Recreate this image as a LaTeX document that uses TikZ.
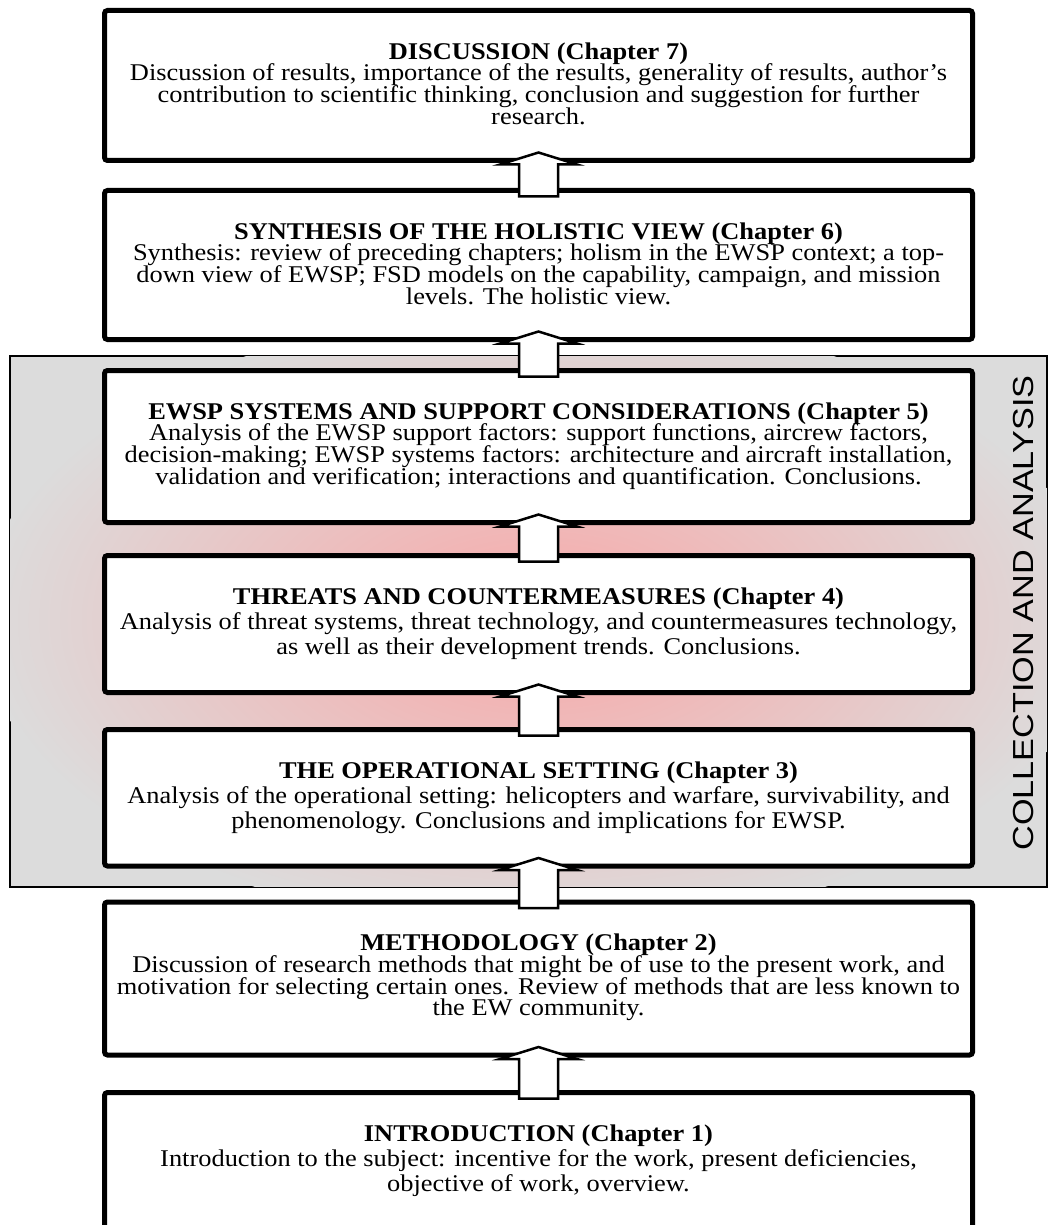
\documentclass[tikz,border=0pt]{standalone}
\usepackage{fontspec}
\setmainfont{Liberation Serif}[FakeStretch=1.10]
\newfontfamily\panelsans{Liberation Sans}
\usepackage{graphicx}
\usetikzlibrary{calc}

\definecolor{panelgray}{HTML}{DCDCDC}
\definecolor{glowpink}{HTML}{F2B4B4}
\pgfdeclareradialshading{pinkglow}{\pgfpoint{0bp}{0bp}}{%
  color(0bp)=(glowpink); color(6bp)=(glowpink);
  color(25bp)=(panelgray); color(50bp)=(panelgray)}

% text settings for the chapter boxes: fixed line pitch
\newcommand\chapfont{\fontsize{12}{10.9}\selectfont\lineskiplimit=-20pt\relax}
\newcommand\chapfontloose{\fontsize{12}{12.5}\selectfont\lineskiplimit=-20pt\relax}

% hollow block arrow rising from box #1 into box #2
\newcommand\liftarrow[2]{%
  \draw[liftarrow]
    ($(#1.north)+(-19.5,6)$) -- ($(#2.south)+(-19.5,4)$)
    -- ($(#2.south)+(-38.5,4)$) -- ($(#2.south)+(0,-8)$)
    -- ($(#2.south)+(38.5,4)$) -- ($(#2.south)+(19.5,4)$)
    -- ($(#1.north)+(19.5,6)$) -- cycle;}

\tikzset{
  chapter/.style={draw=black, line width=2.5pt, fill=white, rounded corners=1.5pt,
    minimum width=434pt, outer sep=0pt, inner sep=0pt},
  chaptext/.style={align=center, inner sep=0pt, anchor=north, font=\chapfont},
  chaptextloose/.style={chaptext, font=\chapfontloose},
  liftarrow/.style={draw=black, line width=1.25pt, fill=white, line join=miter},
  panel/.style={draw=black, line width=1pt, fill=panelgray},
  sidelabel/.style={font=\panelsans\fontsize{14.5}{14.5}\selectfont, rotate=90, inner sep=0pt}
}

\begin{document}
\begin{tikzpicture}[x=0.5pt, y=-0.5pt]
\useasboundingbox (0,0) rectangle (1057,1225);
\clip (0,0) rectangle (1057,1225);

% grey panel around the analysis chapters, with a soft red glow
\draw[panel] (9.5,356) rectangle (1047,887);
\begin{scope}
  \clip (10,356.5) rectangle (1046.5,886.5);
  \shade[shading=pinkglow] (540,620) ellipse [x radius=560, y radius=310];
\end{scope}

\node[sidelabel] (sidelabel) at (1024,613) {\scalebox{1.18}[1]{COLLECTION AND ANALYSIS}};

% chapter boxes
\node[chapter, minimum height=75pt]    (ch7) at (538.5,85.5)   {};
\node[chapter, minimum height=74.5pt]  (ch6) at (538.5,265)    {};
\node[chapter, minimum height=76pt]    (ch5) at (538.5,446.5)  {};
\node[chapter, minimum height=68.5pt]  (ch4) at (538.5,624)    {};
\node[chapter, minimum height=68.25pt] (ch3) at (538.5,797.75) {};
\node[chapter, minimum height=76.5pt]  (ch2) at (538.5,978.5)  {};
\node[chapter, minimum height=70pt]    (ch1) at (538.5,1162.5) {};

% chapter texts, each hung from the top of its box
\node[chaptext] (t7) at ($(ch7.north)+(0,31.5)$) {\textbf{DISCUSSION (Chapter 7)}\\
  Discussion of results, importance of the results, generality of results, author’s\\
  contribution to scientific thinking, conclusion and suggestion for further\\
  research.};
\node[chaptext] (t6) at ($(ch6.north)+(0,31.5)$) {\textbf{SYNTHESIS OF THE HOLISTIC VIEW (Chapter 6)}\\
  Synthesis: review of preceding chapters; holism in the EWSP context; a top-\\
  down view of EWSP; FSD models on the capability, campaign, and mission\\
  levels. The holistic view.};
\node[chaptext] (t5) at ($(ch5.north)+(0,31.5)$) {\textbf{EWSP SYSTEMS AND SUPPORT CONSIDERATIONS (Chapter 5)}\\
  Analysis of the EWSP support factors: support functions, aircrew factors,\\
  decision-making; EWSP systems factors: architecture and aircraft installation,\\
  validation and verification; interactions and quantification. Conclusions.};
\node[chaptextloose] (t4) at ($(ch4.north)+(0,31.5)$) {\textbf{THREATS AND COUNTERMEASURES (Chapter 4)}\\
  Analysis of threat systems, threat technology, and countermeasures technology,\\
  as well as their development trends. Conclusions.};
\node[chaptextloose] (t3) at ($(ch3.north)+(0,31.5)$) {\textbf{THE OPERATIONAL SETTING (Chapter 3)}\\
  Analysis of the operational setting: helicopters and warfare, survivability, and\\
  phenomenology. Conclusions and implications for EWSP.};
\node[chaptext] (t2) at ($(ch2.north)+(0,31.5)$) {\textbf{METHODOLOGY (Chapter 2)}\\
  Discussion of research methods that might be of use to the present work, and\\
  motivation for selecting certain ones. Review of methods that are less known to\\
  the EW community.};
\node[chaptextloose] (t1) at ($(ch1.north)+(0,31.5)$) {\textbf{INTRODUCTION (Chapter 1)}\\
  Introduction to the subject: incentive for the work, present deficiencies,\\
  objective of work, overview.};

% progression arrows between chapters
\liftarrow{ch1}{ch2}
\liftarrow{ch2}{ch3}
\liftarrow{ch3}{ch4}
\liftarrow{ch4}{ch5}
\liftarrow{ch5}{ch6}
\liftarrow{ch6}{ch7}
\end{tikzpicture}
\end{document}
